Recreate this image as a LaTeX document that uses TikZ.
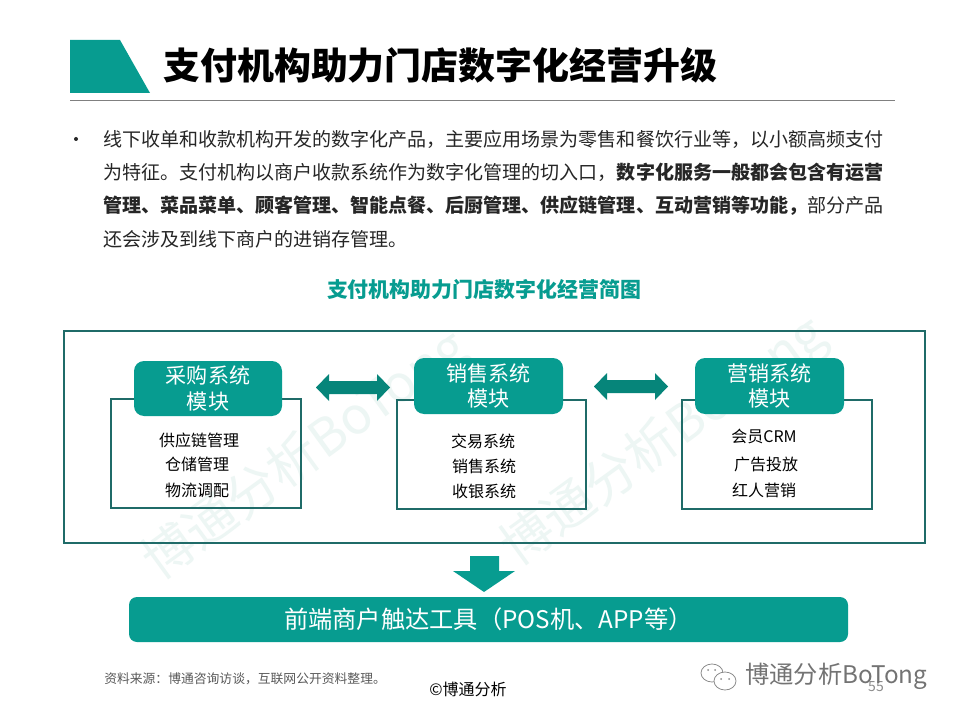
\documentclass[tikz,border=0pt]{standalone}
\usepackage{fontspec}
\setmainfont{Noto Sans CJK SC}
\usetikzlibrary{positioning}
\definecolor{teal1}{HTML}{079C90}
\definecolor{tealdk}{HTML}{1F6B68}
\definecolor{wm}{HTML}{EDF6F4}
\newcommand{\fs}[1]{\fontsize{#1}{#1}\selectfont}
\tikzset{
 frame/.style={draw=tealdk,line width=1.5pt,fill=none},
 hdr/.style={fill=teal1,rounded corners=7.5pt,text=white,align=center,inner sep=0pt,font=\fs{15.8}},
 item/.style={text=black,inner sep=0pt,font=\fs{12}},
 body/.style={anchor=west,inner sep=0pt,text=black!85,font=\fs{14.27}},
 arrowshape/.style={fill=teal1!85!black,draw=none},
 wmark/.style={text=wm,inner sep=0pt,font=\fs{38.5},rotate=36},
 foot/.style={inner sep=0pt,text=black!65}
}
\begin{document}
\begin{tikzpicture}[x=0.75pt,y=-0.75pt]
\useasboundingbox (0,0) rectangle (960,720);
\fill[white] (0,0) rectangle (960,720);
% title
\fill[teal1] (70,40) -- (120,40) -- (150,93) -- (70,93) -- cycle;
\node[anchor=west,inner sep=0pt,font=\fs{27.7}\bfseries] (title) at (163,65) {支付机构助力门店数字化经营升级};
\draw[black!50,line width=0.75pt] (70,101) -- (895,101);
% body
\fill[black!85] (76,139) circle (2);
\node[body] (l1) at (103,139) {线下收单和收款机构开发的数字化产品，主要应用场景为零售和餐饮行业等，以小额高频支付};
\node[body] (l2) at (103,172) {为特征。支付机构以商户收款系统作为数字化管理的切入口，{\bfseries 数字化服务一般都会包含有运营}};
\node[body] (l3) at (103,206) {{\bfseries 管理、菜品菜单、顾客管理、智能点餐、后厨管理、供应链管理、互动营销等功能，}部分产品};
\node[body] (l4) at (103,239) {还会涉及到线下商户的进销存管理。};
\node[inner sep=0pt,text=teal1,font=\fs{15.7}\bfseries] (sub) at (484,290) {支付机构助力门店数字化经营简图};
% watermarks
\node[wmark] (wm1) at (306,456) {博通分析BoTong};
\node[wmark] (wm2) at (664,442) {博通分析BoTong};
% outer frame
\node[frame,minimum width=645.75pt,minimum height=159pt,inner sep=0pt] (outer) at (494.5,437) {};
% boxes
\node[frame,minimum width=142.5pt,minimum height=81.75pt,inner sep=0pt] (b1) at (206,453.5) {};
\node[frame,minimum width=141.75pt,minimum height=81.75pt,inner sep=0pt] (b2) at (491.5,454.5) {};
\node[frame,minimum width=142.5pt,minimum height=81.75pt,inner sep=0pt] (b3) at (777,454.5) {};
% headers
\node[hdr,minimum width=111pt,minimum height=41.25pt] (h1) at (208,388.5) {采购系统\\[3.5pt]模块};
\node[hdr,minimum width=111.75pt,minimum height=42pt] (h2) at (488.5,386) {销售系统\\[3pt]模块};
\node[hdr,minimum width=111.75pt,minimum height=42pt] (h3) at (769.5,386) {营销系统\\[3pt]模块};
% items
\node[item] (i11) at (199,440) {供应链管理};
\node[item] (i12) at (197,464) {仓储管理};
\node[item] (i13) at (197,490) {物流调配};
\node[item] (i21) at (483,441) {交易系统};
\node[item] (i22) at (484,466) {销售系统};
\node[item] (i23) at (484,491) {收银系统};
\node[item] (i31) at (764,436) {会员CRM};
\node[item] (i32) at (766,464) {广告投放};
\node[item] (i33) at (764,490) {红人营销};
% double arrows
\fill[arrowshape] (316,387.5) -- (329,374) -- (329,381) -- (377,381) -- (377,374) -- (390,387.5) -- (377,401) -- (377,394) -- (329,394) -- (329,401) -- cycle;
\fill[arrowshape] (594,386.5) -- (607,373) -- (607,380) -- (655,380) -- (655,373) -- (668,386.5) -- (655,400) -- (655,393) -- (607,393) -- (607,400) -- cycle;
% down arrow
\fill[teal1] (470,556) -- (499,556) -- (499,571) -- (515,571) -- (484,592) -- (453,571) -- (470,571) -- cycle;
% bar
\node[fill=teal1,rounded corners=6pt,minimum width=539.25pt,minimum height=33.75pt,inner sep=0pt,text=white,font=\fs{18.2}] (bar) at (488.5,619.5) {前端商户触达工具（POS机、APP等）};
% footer
\node[foot,anchor=west,font=\fs{9.6}] (src) at (104,679) {资料来源：博通咨询访谈，互联网公开资料整理。};
\node[inner sep=0pt,text=black,font=\fs{12}] (copy) at (468,689) {©博通分析};
\node[foot,text=black!45,font=\fs{10.5}] (page) at (876,687) {55};
\node[inner sep=0pt,anchor=west,text=black!55,font=\fs{18.2}] (brand) at (745,676) {博通分析BoTong};
\draw[black!45,line width=0.6pt] (712,673) ellipse (11 and 9);
\draw[black!45,line width=0.6pt,fill=white] (725,681) ellipse (11 and 9);
\fill[black!45] (721,679) circle (1) (729,679) circle (1) (708,670) circle (1) (715,670) circle (1);
\end{tikzpicture}
\end{document}
